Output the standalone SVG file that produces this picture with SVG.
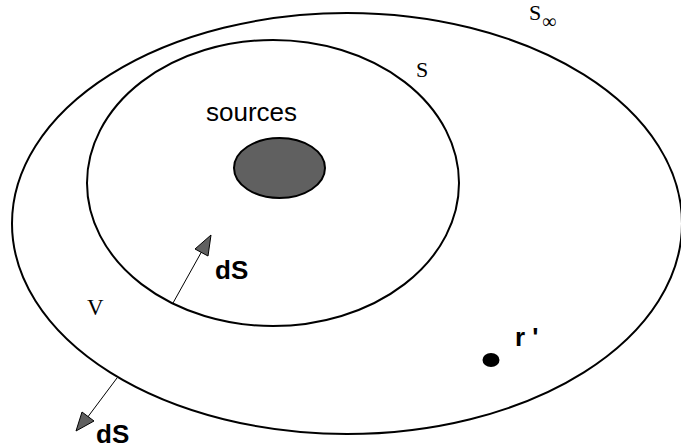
<svg xmlns="http://www.w3.org/2000/svg" width="681" height="448" viewBox="0 0 681 448">
<style>
.bd{fill:none;stroke:#000;stroke-width:2}
.mono{font-family:"Liberation Serif","DejaVu Serif",serif;fill:#000}
.bold{font-family:"Liberation Sans",Arial,sans-serif;font-weight:bold;fill:#000}
.arr{stroke:#000;stroke-width:1;fill:none}
.head{fill:#606060;stroke:#000;stroke-width:1}
</style>
<rect width="681" height="448" fill="#fff"/>
<g id="outer">
<ellipse class="bd" cx="347" cy="223.5" rx="335" ry="210.5"/>
<text class="mono" x="529" y="20" font-size="22">S</text>
<text class="mono" x="542" y="28" font-size="20">∞</text>
</g>
<g id="inner">
<ellipse class="bd" cx="273" cy="183" rx="186" ry="143"/>
<text class="mono" x="416" y="77" font-size="22">S</text>
</g>
<g id="sources">
<ellipse cx="279.5" cy="168" rx="45.5" ry="30" fill="#606060" stroke="#000" stroke-width="2"/>
<text x="206" y="121" font-family="Liberation Sans,Arial,sans-serif" font-size="26" fill="#000">sources</text>
</g>
<g id="volume">
<text class="mono" x="87" y="315" font-size="23">V</text>
</g>
<g id="point">
<ellipse cx="491" cy="360" rx="8.5" ry="7" fill="#000"/>
<text class="bold" x="515" y="346" font-size="26">r '</text>
</g>
<g id="connectors">
<line class="arr" x1="173" y1="303" x2="202" y2="251"/>
<polygon class="head" points="211,235 195,249 208,256"/>
<line class="arr" x1="117" y1="378" x2="87" y2="418"/>
<polygon class="head" points="76,431 82,412 94,421"/>
</g>
<g id="labels">
<text class="bold" x="215" y="279" font-size="26">dS</text>
<text class="bold" x="96" y="443" font-size="26">dS</text>
</g>
</svg>
